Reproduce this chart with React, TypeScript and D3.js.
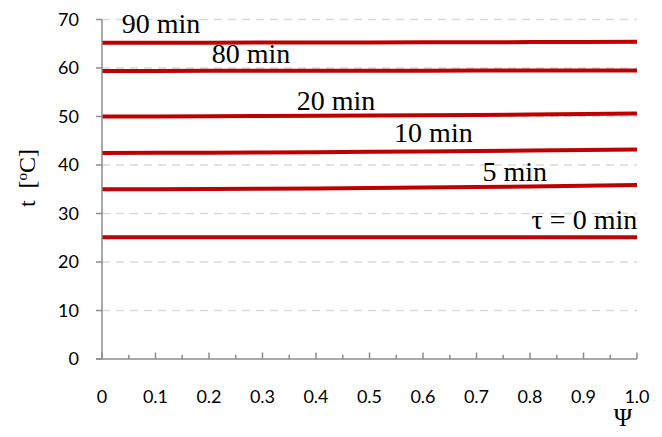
import React from "react";
import * as d3 from "d3";

const psi = [0, 0.1, 0.2, 0.3, 0.4, 0.5, 0.6, 0.7, 0.8, 0.9, 1.0];
const t0 = [25.1, 25.1, 25.1, 25.1, 25.1, 25.1, 25.1, 25.1, 25.1, 25.1, 25.1];
const t5 = [35.0, 35.02, 35.05, 35.1, 35.17, 35.25, 35.35, 35.45, 35.58, 35.72, 35.88];
const t10 = [42.5, 42.52, 42.55, 42.6, 42.65, 42.72, 42.8, 42.88, 42.98, 43.08, 43.2];
const t20 = [50.0, 50.02, 50.05, 50.09, 50.14, 50.19, 50.25, 50.32, 50.4, 50.5, 50.6];
const t80 = [59.4, 59.4, 59.41, 59.42, 59.43, 59.44, 59.45, 59.46, 59.47, 59.48, 59.5];
const t90 = [65.2, 65.21, 65.22, 65.24, 65.26, 65.28, 65.3, 65.32, 65.34, 65.37, 65.4];
const seriesList = [t0, t5, t10, t20, t80, t90];

const labelText = ["τ = 0 min", "5 min", "10 min", "20 min", "80 min", "90 min"];
const labelPsi = [0.803, 0.711, 0.546, 0.364, 0.205, 0.037];
const labelT = [26.9, 36.7, 44.7, 51.4, 61.0, 67.3];

const yTicks = [0, 10, 20, 30, 40, 50, 60, 70];
const xTicks = [0, 0.1, 0.2, 0.3, 0.4, 0.5, 0.6, 0.7, 0.8, 0.9, 1.0];
const xMinor = [0.05, 0.15, 0.25, 0.35, 0.45, 0.55, 0.65, 0.75, 0.85, 0.95];

export default function App() {
  const W = 662, H = 437;
  const x = d3.scaleLinear().domain([0, 1]).range([102, 637]);
  const y = d3.scaleLinear().domain([0, 70]).range([359, 19.5]);
  const line = d3.line<number>().x((_, i) => x(psi[i])).y((d) => y(d));
  const axisColor = "#8c8c8c";
  const sans = "Lato, 'Open Sans', sans-serif";
  const serif = "'Liberation Serif', 'Times New Roman', serif";
  return (
    <svg width={W} height={H} style={{ position: "absolute", left: 0, top: 0, background: "#fff" }}>
      {yTicks.filter((v) => v > 0).map((v) => (
        <line key={"g" + v} x1={x(0)} x2={x(1)} y1={y(v)} y2={y(v)} stroke="#d9d9d9" strokeWidth={1.3} strokeDasharray="8,6" />
      ))}
      {seriesList.map((s, i) => (
        <path key={"s" + i} d={line(s) || ""} fill="none" stroke="#c00000" strokeWidth={4} />
      ))}
      <line x1={x(0)} x2={x(0)} y1={y(0)} y2={y(70)} stroke={axisColor} strokeWidth={1.5} />
      <line x1={x(0) - 6} x2={x(1)} y1={y(0)} y2={y(0)} stroke={axisColor} strokeWidth={1.5} />
      {yTicks.map((v) => (
        <g key={"y" + v}>
          <line x1={x(0) - 6} x2={x(0)} y1={y(v)} y2={y(v)} stroke={axisColor} strokeWidth={1.5} />
          <text x={79} y={y(v)} dy="0.35em" textAnchor="end" fontFamily={sans} fontSize={18} fill="#000">{v}</text>
        </g>
      ))}
      {xTicks.map((v) => (
        <g key={"x" + v}>
          <line x1={x(v)} x2={x(v)} y1={y(0)} y2={y(0) - 6.5} stroke={axisColor} strokeWidth={1.5} />
          <text x={x(v)} y={402.5} textAnchor="middle" fontFamily={sans} fontSize={18} fill="#000">
            {v === 0 ? "0" : v.toFixed(1)}
          </text>
        </g>
      ))}
      {xMinor.map((v) => (
        <line key={"m" + v} x1={x(v)} x2={x(v)} y1={y(0)} y2={y(0) - 4.3} stroke={axisColor} strokeWidth={1.5} />
      ))}
      {labelText.map((txt, i) => (
        <text key={"l" + i} x={x(labelPsi[i])} y={y(labelT[i])} fontFamily={serif} fontSize={28} fill="#000">{txt}</text>
      ))}
      <text transform="translate(35,178) rotate(-90)" textAnchor="middle" fontFamily={serif} fontSize={24} fill="#000" style={{ whiteSpace: "pre" }}>
        {"t  ["}<tspan fontSize={15} dy={-8}>o</tspan><tspan dy={8}>C]</tspan>
      </text>
      <text x={623} y={426} textAnchor="middle" fontFamily={serif} fontSize={25} fill="#000">Ψ</text>
    </svg>
  );
}
